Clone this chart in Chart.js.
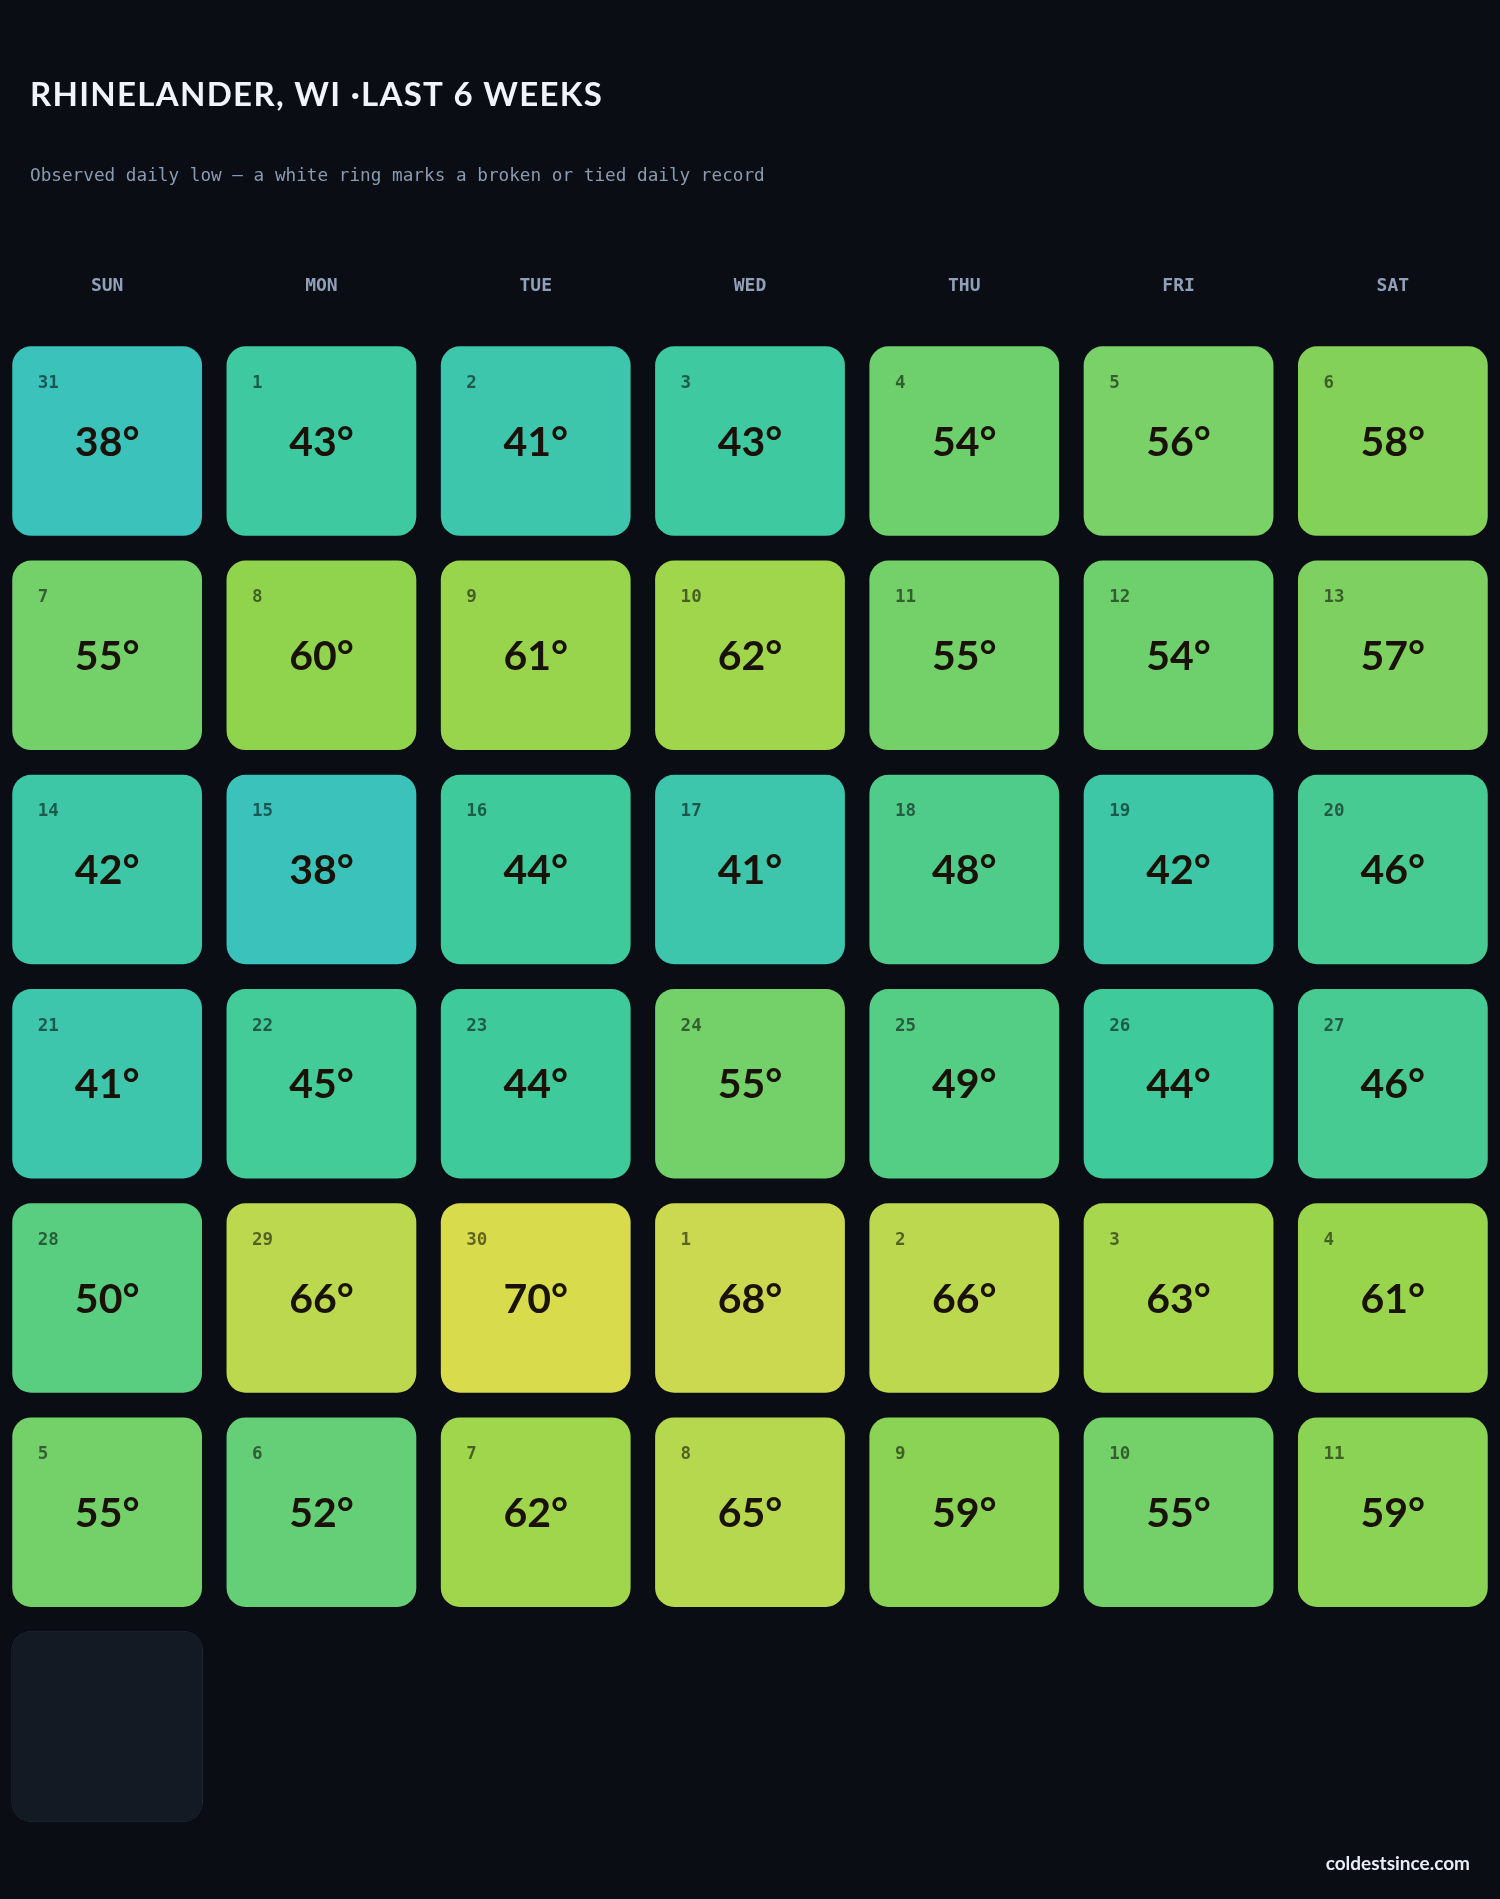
<!DOCTYPE html>
<html>
<head>
<meta charset="utf-8">
<title>Rhinelander, WI - last 6 weeks</title>
<script src="https://cdn.jsdelivr.net/npm/chart.js@4.4.1/dist/chart.umd.min.js"></script>
<style>
  html, body { margin: 0; padding: 0; background: #0a0d14; }
  canvas { display: block; }
</style>
</head>
<body>
<canvas id="cal" width="1500" height="1899"></canvas>
<script>
// week columns
var weekdays = ['SUN', 'MON', 'TUE', 'WED', 'THU', 'FRI', 'SAT'];

// day of month shown in each cell, one row per week
var weekDays = [
  [31, 1, 2, 3, 4, 5, 6],
  [7, 8, 9, 10, 11, 12, 13],
  [14, 15, 16, 17, 18, 19, 20],
  [21, 22, 23, 24, 25, 26, 27],
  [28, 29, 30, 1, 2, 3, 4],
  [5, 6, 7, 8, 9, 10, 11],
  [12]
];

// observed daily low (F), null = no observation yet
var weekLows = [
  [38, 43, 41, 43, 54, 56, 58],
  [55, 60, 61, 62, 55, 54, 57],
  [42, 38, 44, 41, 48, 42, 46],
  [41, 45, 44, 55, 49, 44, 46],
  [50, 66, 70, 68, 66, 63, 61],
  [55, 52, 62, 65, 59, 55, 59],
  [null]
];

// broken / tied daily records (none in this window)
var weekRecords = [
  [false, false, false, false, false, false, false],
  [false, false, false, false, false, false, false],
  [false, false, false, false, false, false, false],
  [false, false, false, false, false, false, false],
  [false, false, false, false, false, false, false],
  [false, false, false, false, false, false, false],
  [false]
];

var titleText = 'RHINELANDER, WI \u00B7LAST 6 WEEKS';
var subtitleText = 'Observed daily low \u2014 a white ring marks a broken or tied daily record';
var footerText = 'coldestsince.com';

// colour ramp for the low temperature
var rampTemps  = [38, 41, 44, 48, 50, 54, 56, 58, 60, 62, 66, 68, 70];
var rampColors = ['#3ac2bb', '#3dc6ab', '#3fca9c', '#4fcc8a', '#59ce80', '#6ed06c',
                  '#79d167', '#83d159', '#90d44e', '#a0d64c', '#bcd84e', '#cad94f', '#d8db4b'];

function hexRgb(h) {
  return [parseInt(h.substr(1, 2), 16), parseInt(h.substr(3, 2), 16), parseInt(h.substr(5, 2), 16)];
}
function tempColor(t) {
  if (t <= rampTemps[0]) return rampColors[0];
  for (var i = 1; i < rampTemps.length; i++) {
    if (t <= rampTemps[i]) {
      var f = (t - rampTemps[i - 1]) / (rampTemps[i] - rampTemps[i - 1]);
      var a = hexRgb(rampColors[i - 1]), b = hexRgb(rampColors[i]);
      var c = a.map(function (v, k) { return Math.round(v + (b[k] - v) * f); });
      return 'rgb(' + c.join(',') + ')';
    }
  }
  return rampColors[rampColors.length - 1];
}

var ROW_GAP = 0.053; // fraction of a row left empty above and below each tile

var datasets = weekLows.map(function (lows, w) {
  return {
    label: 'week ' + (w + 1),
    data: lows.map(function () { return [w + ROW_GAP, w + 1 - ROW_GAP]; }),
    lows: lows,
    days: weekDays[w],
    records: weekRecords[w],
    backgroundColor: lows.map(function (t) { return t == null ? '#131a24' : tempColor(t); }),
    borderColor: lows.map(function (t, i) {
      if (t == null) return '#1f2a37';
      return weekRecords[w][i] ? '#ffffff' : 'rgba(0,0,0,0.1)';
    }),
    borderWidth: lows.map(function (t, i) { return weekRecords[w][i] ? 4 : 1; }),
    borderRadius: 20,
    borderSkipped: false,
    grouped: false,
    barPercentage: 1,
    categoryPercentage: 0.895
  };
});

// title, subtitle, tile texts and footer
var calendarText = {
  id: 'calendarText',
  afterDatasetsDraw: function (chart) {
    var ctx = chart.ctx;
    ctx.save();
    chart.data.datasets.forEach(function (ds, di) {
      var meta = chart.getDatasetMeta(di);
      meta.data.forEach(function (bar, i) {
        var t = ds.lows[i];
        if (t == null) return;
        var p = bar.getProps(['x', 'y', 'base', 'width'], true);
        var top = Math.min(p.y, p.base);
        var bottom = Math.max(p.y, p.base);
        var left = p.x - p.width / 2;

        ctx.fillStyle = 'rgba(0,0,0,0.55)';
        ctx.font = 'bold 17.5px "DejaVu Sans Mono"';
        ctx.textAlign = 'left';
        ctx.textBaseline = 'middle';
        ctx.fillText(String(ds.days[i]), left + 26.5, top + 38);

        ctx.fillStyle = '#1a1208';
        ctx.font = 'bold 41px Lato';
        ctx.textAlign = 'center';
        ctx.fillText(t + '\u00B0', p.x, (top + bottom) / 2 + 1.5);
      });
    });
    ctx.restore();
  },
  afterDraw: function (chart) {
    var ctx = chart.ctx;
    ctx.save();
    ctx.textBaseline = 'alphabetic';
    ctx.textAlign = 'left';
    ctx.fillStyle = '#f1f5fb';
    ctx.font = 'bold 33px Lato';
    ctx.letterSpacing = '1.3px';
    ctx.fillText(titleText, 30, 106);
    ctx.letterSpacing = '0px';

    ctx.fillStyle = '#8a9bb0';
    ctx.font = '17.7px "DejaVu Sans Mono"';
    ctx.fillText(subtitleText, 30, 181);

    ctx.fillStyle = '#e8eef5';
    ctx.font = 'bold 19px Lato';
    ctx.textAlign = 'right';
    ctx.textBaseline = 'middle';
    ctx.fillText(footerText, 1470, 1864);
    ctx.restore();
  }
};

new Chart(document.getElementById('cal'), {
  type: 'bar',
  data: { labels: weekdays, datasets: datasets },
  options: {
    responsive: false,
    animation: false,
    devicePixelRatio: 1,
    layout: { padding: { top: 239, bottom: 65.5, left: 0, right: 0 } },
    plugins: {
      legend: { display: false },
      tooltip: { enabled: false },
      title: { display: false }
    },
    scales: {
      x: {
        position: 'top',
        offset: true,
        grid: { display: false, drawTicks: false },
        border: { display: false },
        ticks: {
          color: '#8fa0b8',
          padding: 36.7,
          font: { family: 'DejaVu Sans Mono', size: 18, weight: 'bold' }
        }
      },
      y: {
        display: false,
        reverse: true,
        min: 0,
        max: 7
      }
    }
  },
  plugins: [calendarText]
});
</script>
</body>
</html>
